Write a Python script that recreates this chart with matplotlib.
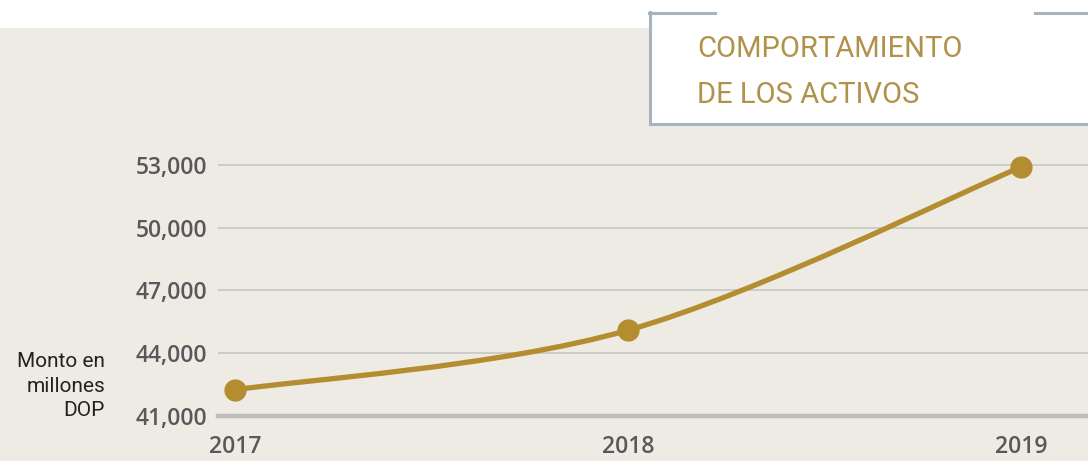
import matplotlib.pyplot as plt
from matplotlib.path import Path
from matplotlib.patches import PathPatch, Rectangle

years = [2017, 2018, 2019]
activos = [42250, 45100, 52900]
y_ticks = [41000, 44000, 47000, 50000, 53000]
y_labels = ["41,000", "44,000", "47,000", "50,000", "53,000"]
x_labels = ["2017", "2018", "2019"]

BG = "#EDEBE3"
GOLD = "#B38D30"
GRID = "#C6C6C4"
TXT = "#58585A"

fig = plt.figure(figsize=(10.88, 4.61), dpi=100, facecolor=BG)
W, H = 1088, 461

# franja blanca superior
fig.patches.append(Rectangle((0, 1 - 28 / H), 1, 28 / H, transform=fig.transFigure,
                             facecolor="white", edgecolor="none", zorder=-1))

ax = fig.add_axes([218 / W, (H - 416) / H, (1088 - 218) / W, (416 - 140) / H])
ax.set_facecolor(BG)
ax.set_xlim(2017 - 17 / 393, 2019 + 67 / 393)
ax.set_ylim(41000, 53000 + 25 / 62.75 * 3000)

for s in ax.spines.values():
    s.set_visible(False)
for t in y_ticks[1:]:
    ax.axhline(t, color=GRID, lw=1.2, zorder=1)
ax.axhline(y_ticks[0], color="#BDBDBD", lw=3.2, zorder=1, clip_on=False)

# curva suave (catmull-rom -> bezier)
pts = list(zip(years, activos))
verts = [pts[0]]
codes = [Path.MOVETO]
for i in range(len(pts) - 1):
    p0 = pts[i - 1] if i > 0 else pts[i]
    p1 = pts[i]
    p2 = pts[i + 1]
    p3 = pts[i + 2] if i + 2 < len(pts) else pts[i + 1]
    c1 = (p1[0] + (p2[0] - p0[0]) / 6, p1[1] + (p2[1] - p0[1]) / 6)
    c2 = (p2[0] - (p3[0] - p1[0]) / 6, p2[1] - (p3[1] - p1[1]) / 6)
    verts += [c1, c2, p2]
    codes += [Path.CURVE4] * 3
ax.add_patch(PathPatch(Path(verts, codes), facecolor="none", edgecolor=GOLD,
                       lw=3.8, zorder=3, capstyle="round"))
ax.plot(years, activos, "o", color=GOLD, markersize=15, zorder=4, clip_on=False)

ax.set_yticks(y_ticks)
ax.set_yticklabels(y_labels, fontsize=16.5, color=TXT, fontfamily="Open Sans", fontweight="semibold")
ax.set_xticks(years)
ax.set_xticklabels(x_labels, fontsize=16.5, color=TXT, fontfamily="Open Sans", fontweight="semibold")
ax.tick_params(axis="y", length=0, pad=8)
ax.tick_params(axis="x", length=0, pad=14)

fig.text(105 / W, 1 - 386 / H, "Monto en\nmillones\nDOP", ha="right", va="center",
         fontsize=15, color="#222222", fontfamily="Roboto",
         linespacing=1.35)

# recuadro del título
bx0, by0, by1 = 649, 12, 125
ax_box = fig.add_axes([bx0 / W, 1 - by1 / H, (W - bx0 + 5) / W, (by1 - by0) / H])
ax_box.set_xlim(0, W - bx0 + 5)
ax_box.set_ylim(by1, by0)
ax_box.set_facecolor("white")
for s in ax_box.spines.values():
    s.set_visible(False)
ax_box.set_xticks([])
ax_box.set_yticks([])
bc = "#A6B4BF"
ax_box.plot([1, 1], [by0, by1 - 1], color=bc, lw=2.2, clip_on=False)
ax_box.plot([1, W - bx0 + 5], [by1 - 1, by1 - 1], color=bc, lw=2.2, clip_on=False)
ax_box.plot([0, 715 - bx0], [by0 + 1, by0 + 1], color=bc, lw=2.2, clip_on=False)
ax_box.plot([1035 - bx0, W - bx0 + 5], [by0 + 1, by0 + 1], color=bc, lw=2.2, clip_on=False)
ax_box.text(697 - bx0, 57, "COMPORTAMIENTO", fontsize=21, color="#B0924A",
            fontfamily="Roboto", va="baseline")
ax_box.text(697 - bx0, 103, "DE LOS ACTIVOS", fontsize=21, color="#B0924A",
            fontfamily="Roboto", va="baseline")

fig.savefig("out.png", dpi=100, facecolor=BG)
